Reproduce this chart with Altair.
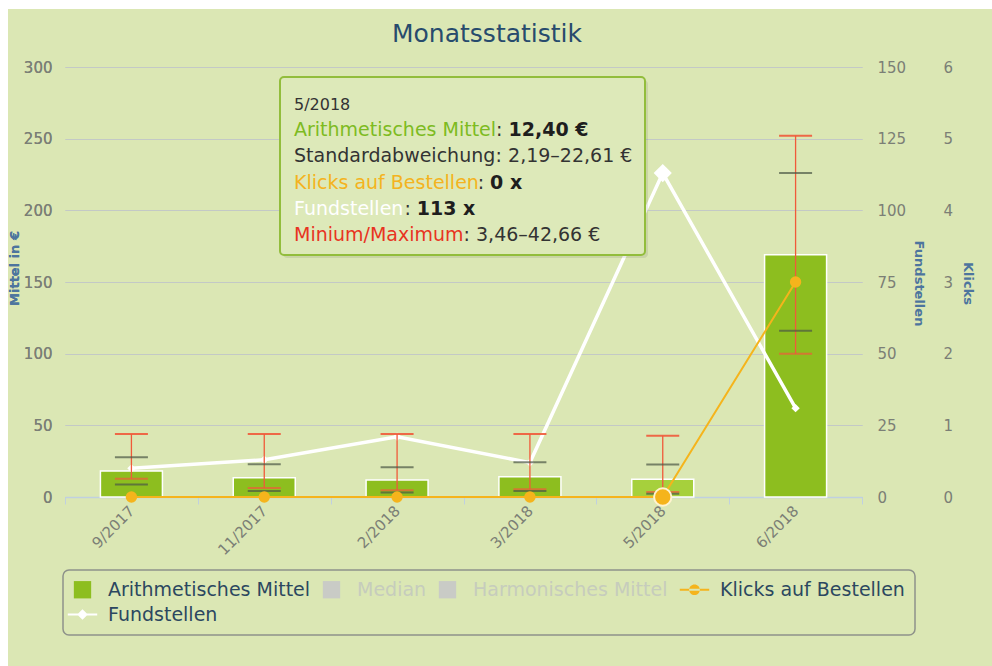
import altair as alt
import pandas as pd

# ---------------- data ----------------
months = ["9/2017", "11/2017", "2/2018", "3/2018", "5/2018", "6/2018"]
mean_price = [18.2, 13.5, 11.9, 14.2, 12.4, 169.0]
std_low = [8.7, 4.2, 3.1, 4.2, 2.19, 116.0]
std_high = [27.7, 22.8, 20.7, 24.2, 22.61, 226.0]
price_min = [12.8, 6.3, 4.7, 5.4, 3.46, 100.0]
price_max = [44.0, 44.0, 44.0, 44.0, 42.66, 252.0]
fundstellen = [10, 13, 21, 12, 113, 31]
klicks = [0, 0, 0, 0, 0, 3]
hovered = "5/2018"

left_ticks = [0, 50, 100, 150, 200, 250, 300]
fund_ticks = [0, 25, 50, 75, 100, 125, 150]
klick_ticks = [0, 1, 2, 3, 4, 5, 6]

chart_title = "Monatsstatistik"
legend_names = ["Arithmetisches Mittel", "Median", "Harmonisches Mittel",
                "Klicks auf Bestellen", "Fundstellen"]
hidden_names = ["Median", "Harmonisches Mittel"]

tooltip_title = "5/2018"
tooltip_labels = ["Arithmetisches Mittel", "Standardabweichung", "Klicks auf Bestellen",
                  "Fundstellen", "Minium/Maximum"]
tooltip_values = ["12,40 €", "2,19–22,61 €", "0 x", "113 x", "3,46–42,66 €"]

# ---------------- styles ----------------
BG = "#dbe7b4"
GREEN = "#8dbe1f"
GREEN_HOVER = "#a6d03c"
ORANGE = "#f5b41c"
RED = "#f05a3a"
STD_GRAY = "#4c5744"
GRID = "#c3c9c6"
AXIS_LINE = "#c0d0e0"
LABEL = "#7b7f76"
AXIS_TITLE = "#4d759e"
TITLE = "#274b6d"
LEGEND_TEXT = "#2c4760"
HIDDEN_SYM = "#c9cbc6"
HIDDEN_TXT = "#c6ccbd"
DARK = "#333333"
FONT = "DejaVu Sans"

tooltip_label_colors = ["#7dbb22", DARK, "#f4b320", "#ffffff", "#e8341f"]
tooltip_value_bold = [True, False, True, True, False]

W, H = 797, 430

# DejaVu Sans advance widths (units of 1/2048 em) for label width estimation
ADV = {'A': 1401, 'B': 1405, 'F': 1178, 'K': 1212, 'M': 1767, 'S': 1300,
       'a': 1255, 'b': 1300, 'c': 1126, 'd': 1300, 'e': 1260, 'f': 721,
       'g': 1300, 'h': 1298, 'i': 569, 'k': 1186, 'l': 569, 'm': 1995,
       'n': 1298, 'o': 1253, 'r': 842, 's': 1067, 't': 803, 'u': 1298,
       'w': 1675, 'x': 1212, ' ': 651, '/': 690, ':': 690}


def text_width(s, fs):
    return sum(ADV.get(c, 1250) for c in s) / 2048.0 * fs


df = pd.DataFrame({
    "month": months, "mean": mean_price, "std_low": std_low, "std_high": std_high,
    "pmin": price_min, "pmax": price_max, "fund": fundstellen, "klicks": klicks,
})
one = pd.DataFrame({"k": [0]})
base = alt.Chart(df)

x_axis = alt.Axis(labelAngle=-45, labelAlign="right", labelBaseline="middle",
                  labelFontSize=15, labelColor=LABEL, labelPadding=4,
                  tickBand="extent", tickSize=7, tickColor=AXIS_LINE,
                  domainColor=AXIS_LINE, domainWidth=1.5, grid=False, title=None)
X = alt.X("month:N", sort=months, title=None,
          scale=alt.Scale(paddingInner=0, paddingOuter=0), axis=x_axis)

SL = alt.Scale(domain=[0, 300], nice=False)
AL = alt.Axis(values=left_ticks, title="Mittel in €", titleX=-47, titleY=201,
              titleAngle=-90, titleBaseline="alphabetic", titleAlign="center",
              titleColor=AXIS_TITLE, titleFontSize=13, titleFontWeight="bold",
              labelFontSize=15, labelColor=LABEL, labelPadding=13,
              ticks=False, domain=False, grid=True, gridColor=GRID, gridWidth=1)

SF = alt.Scale(domain=[0, 150], nice=False)
AF = alt.Axis(values=fund_ticks, orient="right", title="Fundstellen",
              titleX=52, titleY=216, titleAngle=90, titleBaseline="alphabetic",
              titleAlign="center", titleColor=AXIS_TITLE, titleFontSize=13,
              titleFontWeight="bold", labelFontSize=15, labelColor=LABEL,
              labelPadding=15, labelAlign="left", ticks=False, domain=False, grid=False)

SK = alt.Scale(domain=[0, 6], nice=False)
AK = alt.Axis(values=klick_ticks, orient="right", offset=66, title="Klicks",
              titleX=35, titleY=216, titleAngle=90, titleBaseline="alphabetic",
              titleAlign="center", titleColor=AXIS_TITLE, titleFontSize=13,
              titleFontWeight="bold", labelFontSize=15, labelColor=LABEL,
              labelPadding=15, labelAlign="left", ticks=False, domain=False, grid=False)

# ---------------- left-axis group (price statistics) ----------------
bars = base.mark_bar(size=62, stroke="white", strokeWidth=1.5).encode(
    x=X, y=alt.Y("mean:Q", scale=SL, axis=AL),
    color=alt.condition(alt.datum.month == hovered, alt.value(GREEN_HOVER), alt.value(GREEN)),
)

err_rule = base.mark_rule(color=RED, strokeWidth=1.3, opacity=1).encode(
    x=X, y=alt.Y("pmin:Q", scale=SL, axis=AL), y2="pmax:Q")
cap_min = base.mark_tick(color=RED, size=33, thickness=2).encode(
    x=X, y=alt.Y("pmin:Q", scale=SL, axis=AL))
cap_max = base.mark_tick(color=RED, size=33, thickness=2, opacity=0.9).encode(
    x=X, y=alt.Y("pmax:Q", scale=SL, axis=AL))
std_lo = base.mark_tick(color=STD_GRAY, size=33, thickness=2, opacity=0.7).encode(
    x=X, y=alt.Y("std_low:Q", scale=SL, axis=AL))
std_hi = base.mark_tick(color=STD_GRAY, size=33, thickness=2, opacity=0.7).encode(
    x=X, y=alt.Y("std_high:Q", scale=SL, axis=AL))

left_group = alt.layer(bars)
err_group = alt.layer(err_rule, cap_min, cap_max, std_lo, std_hi)

# ---------------- Fundstellen group ----------------
fund_line = base.mark_line(color="white", strokeWidth=3.5).encode(
    x=X, y=alt.Y("fund:Q", scale=SF, axis=AF))
fund_pts = base.mark_point(shape="diamond", filled=True, color="white", size=70, opacity=1).encode(
    x=X, y=alt.Y("fund:Q", scale=SF, axis=AF))
fund_hover = base.transform_filter(alt.datum.month == hovered).mark_point(
    shape="diamond", filled=True, color="white", size=330, opacity=1).encode(
    x=X, y=alt.Y("fund:Q", scale=SF, axis=AF))
fund_group = alt.layer(fund_line, fund_pts, fund_hover)

# ---------------- Klicks group ----------------
kl_line = base.mark_line(color=ORANGE, strokeWidth=2).encode(
    x=X, y=alt.Y("klicks:Q", scale=SK, axis=AK))
kl_pts = base.mark_point(shape="circle", filled=True, color=ORANGE, size=130, opacity=1).encode(
    x=X, y=alt.Y("klicks:Q", scale=SK, axis=AK))
kl_hover = base.transform_filter(alt.datum.month == hovered).mark_point(
    shape="circle", filled=True, color=ORANGE, size=300, opacity=1,
    stroke="#fff3cf", strokeWidth=2).encode(
    x=X, y=alt.Y("klicks:Q", scale=SK, axis=AK))
klick_group = alt.layer(kl_line, kl_pts, kl_hover)

# ---------------- legend ----------------
PATH_CIRCLE = ("M-1.7,-0.12L1.7,-0.12L1.7,0.12L-1.7,0.12Z "
               "M-0.62,0A0.62,0.62,0,1,0,0.62,0A0.62,0.62,0,1,0,-0.62,0Z")
PATH_DIAMOND = ("M-1.7,-0.12L1.7,-0.12L1.7,0.12L-1.7,0.12Z "
                "M0,-0.62L0.62,0L0,0.62L-0.62,0Z")
hidden_expr = "indexof(" + str(hidden_names) + ", datum.label) >= 0 ? '" + HIDDEN_TXT + "' : '" + LEGEND_TEXT + "'"
LEG = alt.Legend(title=None, orient="none", legendX=-2, legendY=503,
                 direction="horizontal", columns=4, symbolSize=300,
                 symbolOpacity=1, symbolStrokeWidth=0, labelFontSize=19,
                 labelFont=FONT, labelColor=alt.ExprRef(expr=hidden_expr),
                 labelOffset=16, columnPadding=11, rowPadding=5, padding=10,
                 strokeColor="#8e928a", cornerRadius=6, labelLimit=400)
legend_layer = alt.Chart(pd.DataFrame({"series": legend_names})).mark_point(
    filled=True, opacity=0).encode(
    color=alt.Color("series:N", sort=legend_names,
                    scale=alt.Scale(domain=legend_names,
                                    range=[GREEN, HIDDEN_SYM, HIDDEN_SYM, ORANGE, "white"]),
                    legend=LEG),
    shape=alt.Shape("series:N", sort=legend_names,
                    scale=alt.Scale(domain=legend_names,
                                    range=["square", "square", "square", PATH_CIRCLE, PATH_DIAMOND]),
                    legend=LEG),
)

# ---------------- chart title ----------------
title_layer = alt.Chart(one).mark_text(text=chart_title, align="center", baseline="alphabetic",
                                       fontSize=25, font=FONT, color=TITLE).encode(
    x=alt.value(422), y=alt.value(-25))

# ---------------- tooltip overlay ----------------
TT_X0, TT_X1, TT_Y0, TT_Y1 = 215, 580, 10, 188
tt_layers = [
    alt.Chart(one).mark_rect(fill="black", opacity=0.08, cornerRadius=4).encode(
        x=alt.value(TT_X0 + 3), x2=alt.value(TT_X1 + 3), y=alt.value(TT_Y0 + 3), y2=alt.value(TT_Y1 + 3)),
    alt.Chart(one).mark_rect(fill="#dde9b9", stroke="#92bd3c", strokeWidth=2, cornerRadius=4).encode(
        x=alt.value(TT_X0), x2=alt.value(TT_X1), y=alt.value(TT_Y0), y2=alt.value(TT_Y1)),
    alt.Chart(one).mark_text(text=tooltip_title, align="left", baseline="alphabetic",
                             fontSize=16, font=FONT, color=DARK).encode(
        x=alt.value(229), y=alt.value(43)),
]
TT_FS = 19
for i, (lab, val, col, bold) in enumerate(zip(tooltip_labels, tooltip_values,
                                              tooltip_label_colors, tooltip_value_bold)):
    yy = 69 + i * 26.3
    lx = 229
    cx = lx + text_width(lab, TT_FS)
    vx = cx + text_width(": ", TT_FS)
    tt_layers.append(alt.Chart(one).mark_text(text=lab, align="left", baseline="alphabetic",
                                              fontSize=TT_FS, font=FONT, color=col).encode(
        x=alt.value(lx), y=alt.value(yy)))
    tt_layers.append(alt.Chart(one).mark_text(text=":", align="left", baseline="alphabetic",
                                              fontSize=TT_FS, font=FONT, color=DARK).encode(
        x=alt.value(cx), y=alt.value(yy)))
    tt_layers.append(alt.Chart(one).mark_text(text=val, align="left", baseline="alphabetic",
                                              fontSize=TT_FS, font=FONT, color="#1e1e1e" if bold else DARK,
                                              fontWeight="bold" if bold else "normal").encode(
        x=alt.value(vx), y=alt.value(yy)))

# white frame strips at left/top edge of the screenshot
strips = [
    alt.Chart(one).mark_rect(fill="white").encode(
        x=alt.value(-65), x2=alt.value(-57), y=alt.value(-67), y2=alt.value(H + 169)),
    alt.Chart(one).mark_rect(fill="white").encode(
        x=alt.value(-65), x2=alt.value(W + 130), y=alt.value(-67), y2=alt.value(-58)),
]

chart = alt.layer(
    left_group, fund_group, err_group, klick_group, legend_layer, title_layer,
    *tt_layers, *strips
).resolve_scale(y="independent").properties(
    width=W, height=H,
    autosize=alt.AutoSizeParams(type="none"),
    padding={"left": 65, "top": 67, "right": 130, "bottom": 169},
).configure(background=BG, font=FONT).configure_view(stroke=None).configure_legend(strokeWidth=1.5)

chart.save("out.html", embed_options={"renderer": "svg", "actions": False})
